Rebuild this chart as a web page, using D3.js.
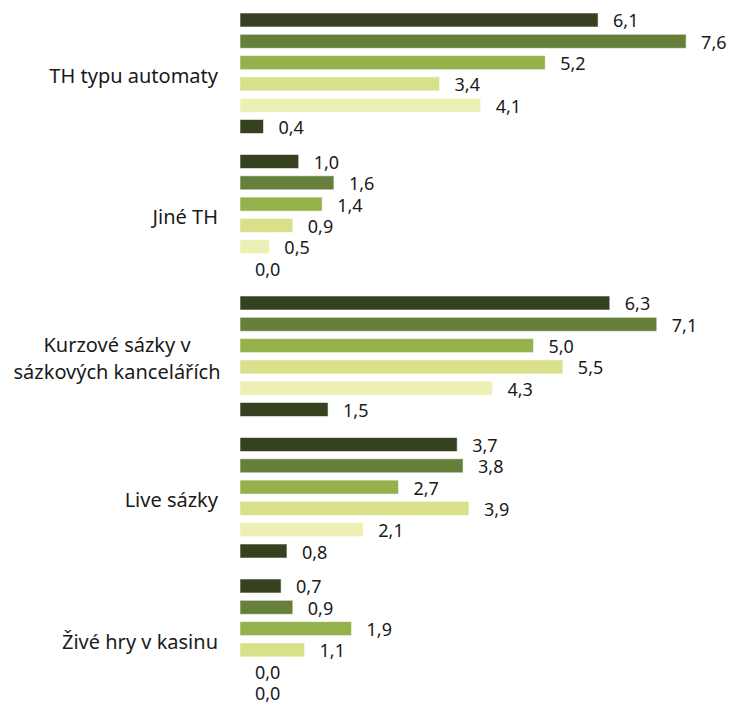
<!DOCTYPE html>
<html>
<head>
<meta charset="utf-8">
<script src="https://cdn.jsdelivr.net/npm/d3@7"></script>
<style>
  html, body { margin: 0; padding: 0; background: #fff; }
  svg { display: block; }
  text { font-family: "Noto Sans", "Open Sans", sans-serif; fill: #1a1a1a; }
</style>
</head>
<body>
<svg id="chart" width="729" height="705"></svg>
<script>
// Categories (top to bottom)
const categories = [
  "TH typu automaty",
  "Jiné TH",
  "Kurzové sázky v sázkových kancelářích",
  "Live sázky",
  "Živé hry v kasinu"
];
// Category labels split in lines as displayed
const categoryLines = [
  ["TH typu automaty"],
  ["Jiné TH"],
  ["Kurzové sázky v", "sázkových kancelářích"],
  ["Live sázky"],
  ["Živé hry v kasinu"]
];
const seriesNames = ["Řada 1", "Řada 2", "Řada 3", "Řada 4", "Řada 5", "Řada 6"];
const seriesColors = ["#36421f", "#667f3b", "#94b14b", "#d8e08a", "#eeefb4", "#36421f"];

const series1 = [6.1, 1.0, 6.3, 3.7, 0.7];
const series2 = [7.6, 1.6, 7.1, 3.8, 0.9];
const series3 = [5.2, 1.4, 5.0, 2.7, 1.9];
const series4 = [3.4, 0.9, 5.5, 3.9, 1.1];
const series5 = [4.1, 0.5, 4.3, 2.1, 0.0];
const series6 = [0.4, 0.0, 1.5, 0.8, 0.0];
const seriesValues = [series1, series2, series3, series4, series5, series6];

const svg = d3.select("#chart");

const x = d3.scaleLinear().domain([0, 8]).range([240, 709.6]);
const y0 = d3.scaleBand().domain(categories).range([2.5, 710]).paddingInner(0).paddingOuter(0);
const y1 = d3.scaleBand().domain(seriesNames).range([0, y0.bandwidth()])
  .paddingInner(0.343).paddingOuter(0.493);

const fmt = v => v.toFixed(1).replace(".", ",");

const groups = svg.selectAll("g.cat")
  .data(categories)
  .join("g")
  .attr("class", "cat")
  .attr("transform", d => `translate(0,${y0(d)})`);

groups.each(function(cat, ci) {
  const g = d3.select(this);
  const rows = seriesNames.map((s, si) => ({ s, si, v: seriesValues[si][ci] }));
  g.selectAll("rect")
    .data(rows.filter(r => r.v > 0))
    .join("rect")
    .attr("x", x(0))
    .attr("y", r => y1(r.s))
    .attr("width", r => x(r.v) - x(0))
    .attr("height", y1.bandwidth())
    .attr("fill", r => seriesColors[r.si])
    .attr("stroke", "rgba(255,255,255,0.55)")
    .attr("stroke-width", 1);
  g.selectAll("text.val")
    .data(rows)
    .join("text")
    .attr("class", "val")
    .attr("x", r => x(r.v) + 15)
    .attr("y", r => y1(r.s) + y1.bandwidth() / 2 + 0.5)
    .attr("dominant-baseline", "central")
    .attr("font-size", 18)
    .text(r => fmt(r.v));
});

// Category labels
groups.each(function(cat, ci) {
  const g = d3.select(this);
  const lines = categoryLines[ci];
  const cy = y0.bandwidth() / 2 + 2;
  const lh = 27;
  const multi = lines.length > 1;
  const t = g.append("text")
    .attr("font-size", 20)
    .attr("text-anchor", multi ? "middle" : "end");
  lines.forEach((ln, li) => {
    t.append("tspan")
      .attr("x", multi ? 117 : 218)
      .attr("y", cy + (li - (lines.length - 1) / 2) * lh)
      .attr("dominant-baseline", "central")
      .text(ln);
  });
});
</script>
</body>
</html>
